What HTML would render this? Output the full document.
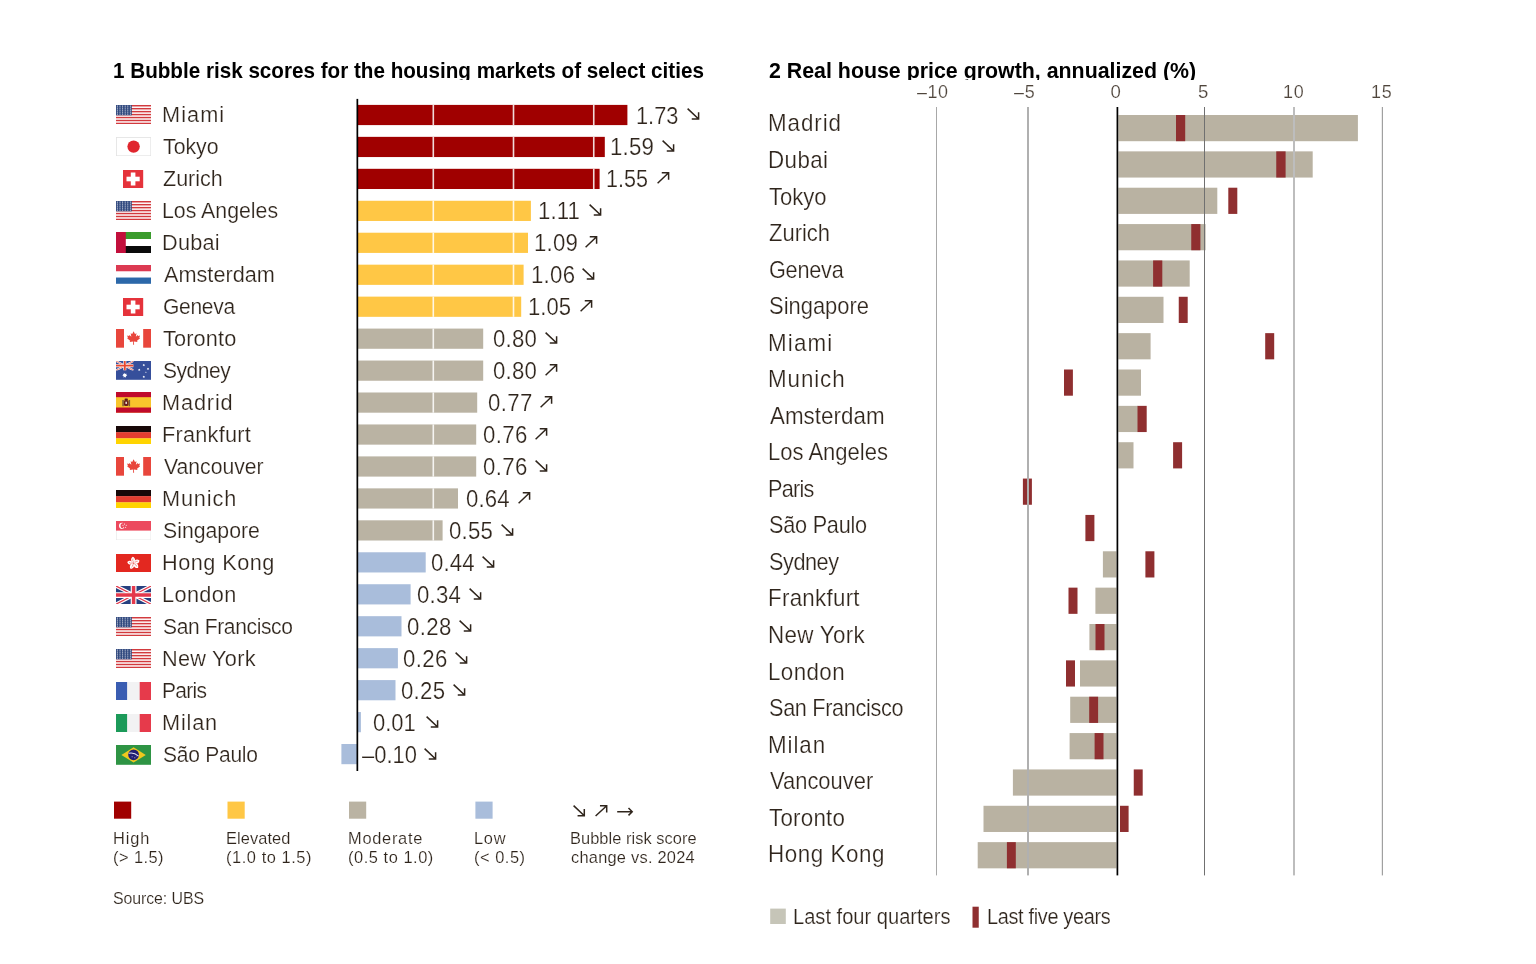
<!DOCTYPE html>
<html lang="en"><head><meta charset="utf-8"><title>Bubble risk scores and real house price growth</title>
<style>
html,body{margin:0;padding:0;background:#fff}
body{width:1536px;height:964px;position:relative;overflow:hidden;font-family:"Liberation Sans", sans-serif;font-weight:400}
.t{position:absolute;white-space:nowrap;transform-origin:0 0;display:block;-webkit-text-stroke:0 #fff}
.b{-webkit-text-stroke:0}
.r{position:absolute}
.a{position:absolute;overflow:visible}
svg.a{overflow:hidden}
.clip{position:absolute;overflow:hidden}
.chart,.row,.legend{position:static}
</style></head><body>
<div class="clip" style="left:100px;top:40px;width:1300px;height:40.2px">
<span class="t b" style="left:13.31px;top:20.35px;font-size:21.2px;line-height:21.2px;transform:scaleX(0.9744);color:#000;font-weight:700;">1 Bubble risk scores for the housing markets of select cities</span>
<span class="t b" style="left:668.65px;top:20.25px;font-size:21.2px;line-height:21.2px;transform:scaleX(1.0079);color:#000;font-weight:700;">2 Real house price growth, annualized (%)</span>
</div>
<div class="chart" id="chart1">
<div class="row">
<svg class="a" style="left:115.85px;top:105.10px" width="35.2" height="19.2" viewBox="0 0 35.2 19.2"><rect width="35.2" height="19.2" fill="#fff"/><rect y="0.000" width="35.2" height="1.477" fill="#d23a3e"/><rect y="2.954" width="35.2" height="1.477" fill="#d23a3e"/><rect y="5.908" width="35.2" height="1.477" fill="#d23a3e"/><rect y="8.862" width="35.2" height="1.477" fill="#d23a3e"/><rect y="11.815" width="35.2" height="1.477" fill="#d23a3e"/><rect y="14.769" width="35.2" height="1.477" fill="#d23a3e"/><rect y="17.723" width="35.2" height="1.477" fill="#d23a3e"/><rect width="15.8" height="10.338" fill="#31497f"/><circle cx="1.40" cy="1.10" r="0.6" fill="#fff" fill-opacity=".85"/><circle cx="4.00" cy="1.10" r="0.6" fill="#fff" fill-opacity=".85"/><circle cx="6.60" cy="1.10" r="0.6" fill="#fff" fill-opacity=".85"/><circle cx="9.20" cy="1.10" r="0.6" fill="#fff" fill-opacity=".85"/><circle cx="11.80" cy="1.10" r="0.6" fill="#fff" fill-opacity=".85"/><circle cx="14.40" cy="1.10" r="0.6" fill="#fff" fill-opacity=".85"/><circle cx="1.40" cy="3.10" r="0.6" fill="#fff" fill-opacity=".85"/><circle cx="4.00" cy="3.10" r="0.6" fill="#fff" fill-opacity=".85"/><circle cx="6.60" cy="3.10" r="0.6" fill="#fff" fill-opacity=".85"/><circle cx="9.20" cy="3.10" r="0.6" fill="#fff" fill-opacity=".85"/><circle cx="11.80" cy="3.10" r="0.6" fill="#fff" fill-opacity=".85"/><circle cx="14.40" cy="3.10" r="0.6" fill="#fff" fill-opacity=".85"/><circle cx="1.40" cy="5.10" r="0.6" fill="#fff" fill-opacity=".85"/><circle cx="4.00" cy="5.10" r="0.6" fill="#fff" fill-opacity=".85"/><circle cx="6.60" cy="5.10" r="0.6" fill="#fff" fill-opacity=".85"/><circle cx="9.20" cy="5.10" r="0.6" fill="#fff" fill-opacity=".85"/><circle cx="11.80" cy="5.10" r="0.6" fill="#fff" fill-opacity=".85"/><circle cx="14.40" cy="5.10" r="0.6" fill="#fff" fill-opacity=".85"/><circle cx="1.40" cy="7.10" r="0.6" fill="#fff" fill-opacity=".85"/><circle cx="4.00" cy="7.10" r="0.6" fill="#fff" fill-opacity=".85"/><circle cx="6.60" cy="7.10" r="0.6" fill="#fff" fill-opacity=".85"/><circle cx="9.20" cy="7.10" r="0.6" fill="#fff" fill-opacity=".85"/><circle cx="11.80" cy="7.10" r="0.6" fill="#fff" fill-opacity=".85"/><circle cx="14.40" cy="7.10" r="0.6" fill="#fff" fill-opacity=".85"/><circle cx="1.40" cy="9.10" r="0.6" fill="#fff" fill-opacity=".85"/><circle cx="4.00" cy="9.10" r="0.6" fill="#fff" fill-opacity=".85"/><circle cx="6.60" cy="9.10" r="0.6" fill="#fff" fill-opacity=".85"/><circle cx="9.20" cy="9.10" r="0.6" fill="#fff" fill-opacity=".85"/><circle cx="11.80" cy="9.10" r="0.6" fill="#fff" fill-opacity=".85"/><circle cx="14.40" cy="9.10" r="0.6" fill="#fff" fill-opacity=".85"/></svg>
<span class="t" style="left:161.91px;top:103.75px;font-size:22.5px;line-height:22.5px;transform:scaleX(0.9650);color:#2f251c;letter-spacing:1.098px;-webkit-text-stroke-width:0.225px;">Miami</span>
<span class="t" style="left:635.87px;top:104.53px;font-size:23.0px;line-height:23.0px;transform:scaleX(0.9469);color:#2f251c;-webkit-text-stroke-width:0.230px;">1.73</span>
<svg class="a" style="left:685.40px;top:106.45px" width="16.40" height="15.80"><path d="M2.6,2.6 L13.599999999999977,13.00000000000001 M6.75599999999997,13.00000000000001 H13.599999999999977 V6.156000000000004" fill="none" stroke="#2f251c" stroke-width="1.5" stroke-linecap="butt" stroke-linejoin="miter"/></svg>
</div>
<div class="row">
<svg class="a" style="left:115.85px;top:137.11px" width="35.2" height="19.2" viewBox="0 0 35.2 19.2"><rect x=".4" y=".4" width="34.400000000000006" height="18.4" fill="#fff" stroke="#e2e2e2" stroke-width=".8"/><circle cx="17.6" cy="9.6" r="6.2" fill="#e0262e"/></svg>
<span class="t" style="left:163.22px;top:135.75px;font-size:22.5px;line-height:22.5px;transform:scaleX(0.9456);color:#2f251c;-webkit-text-stroke-width:0.225px;">Tokyo</span>
<span class="t" style="left:610.04px;top:136.49px;font-size:23.0px;line-height:23.0px;transform:scaleX(0.9650);color:#2f251c;letter-spacing:0.240px;-webkit-text-stroke-width:0.230px;">1.59</span>
<svg class="a" style="left:660.20px;top:138.45px" width="16.40" height="15.80"><path d="M2.6,2.6 L13.599999999999977,13.00000000000001 M6.75599999999997,13.00000000000001 H13.599999999999977 V6.156000000000004" fill="none" stroke="#2f251c" stroke-width="1.5" stroke-linecap="butt" stroke-linejoin="miter"/></svg>
</div>
<div class="row">
<svg class="a" style="left:123.35px;top:169.72px" width="20.2" height="18" viewBox="0 0 20.2 18"><rect width="20.2" height="18" fill="#e5333b"/><rect x="3.5" y="6.7" width="13.2" height="4.6" fill="#fff"/><rect x="7.8" y="2.5" width="4.6" height="13" fill="#fff"/></svg>
<span class="t" style="left:163.00px;top:167.74px;font-size:22.5px;line-height:22.5px;transform:scaleX(0.9560);color:#2f251c;-webkit-text-stroke-width:0.225px;">Zurich</span>
<span class="t" style="left:605.69px;top:168.44px;font-size:23.0px;line-height:23.0px;transform:scaleX(0.9361);color:#2f251c;-webkit-text-stroke-width:0.230px;">1.55</span>
<svg class="a" style="left:654.80px;top:170.45px" width="16.40" height="15.80"><path d="M2.6,13.200000000000012 L13.599999999999977,2.8 M6.75599999999997,2.8 H13.599999999999977 V9.644000000000005" fill="none" stroke="#2f251c" stroke-width="1.5" stroke-linecap="butt" stroke-linejoin="miter"/></svg>
</div>
<div class="row">
<svg class="a" style="left:115.85px;top:201.13px" width="35.2" height="19.2" viewBox="0 0 35.2 19.2"><rect width="35.2" height="19.2" fill="#fff"/><rect y="0.000" width="35.2" height="1.477" fill="#d23a3e"/><rect y="2.954" width="35.2" height="1.477" fill="#d23a3e"/><rect y="5.908" width="35.2" height="1.477" fill="#d23a3e"/><rect y="8.862" width="35.2" height="1.477" fill="#d23a3e"/><rect y="11.815" width="35.2" height="1.477" fill="#d23a3e"/><rect y="14.769" width="35.2" height="1.477" fill="#d23a3e"/><rect y="17.723" width="35.2" height="1.477" fill="#d23a3e"/><rect width="15.8" height="10.338" fill="#31497f"/><circle cx="1.40" cy="1.10" r="0.6" fill="#fff" fill-opacity=".85"/><circle cx="4.00" cy="1.10" r="0.6" fill="#fff" fill-opacity=".85"/><circle cx="6.60" cy="1.10" r="0.6" fill="#fff" fill-opacity=".85"/><circle cx="9.20" cy="1.10" r="0.6" fill="#fff" fill-opacity=".85"/><circle cx="11.80" cy="1.10" r="0.6" fill="#fff" fill-opacity=".85"/><circle cx="14.40" cy="1.10" r="0.6" fill="#fff" fill-opacity=".85"/><circle cx="1.40" cy="3.10" r="0.6" fill="#fff" fill-opacity=".85"/><circle cx="4.00" cy="3.10" r="0.6" fill="#fff" fill-opacity=".85"/><circle cx="6.60" cy="3.10" r="0.6" fill="#fff" fill-opacity=".85"/><circle cx="9.20" cy="3.10" r="0.6" fill="#fff" fill-opacity=".85"/><circle cx="11.80" cy="3.10" r="0.6" fill="#fff" fill-opacity=".85"/><circle cx="14.40" cy="3.10" r="0.6" fill="#fff" fill-opacity=".85"/><circle cx="1.40" cy="5.10" r="0.6" fill="#fff" fill-opacity=".85"/><circle cx="4.00" cy="5.10" r="0.6" fill="#fff" fill-opacity=".85"/><circle cx="6.60" cy="5.10" r="0.6" fill="#fff" fill-opacity=".85"/><circle cx="9.20" cy="5.10" r="0.6" fill="#fff" fill-opacity=".85"/><circle cx="11.80" cy="5.10" r="0.6" fill="#fff" fill-opacity=".85"/><circle cx="14.40" cy="5.10" r="0.6" fill="#fff" fill-opacity=".85"/><circle cx="1.40" cy="7.10" r="0.6" fill="#fff" fill-opacity=".85"/><circle cx="4.00" cy="7.10" r="0.6" fill="#fff" fill-opacity=".85"/><circle cx="6.60" cy="7.10" r="0.6" fill="#fff" fill-opacity=".85"/><circle cx="9.20" cy="7.10" r="0.6" fill="#fff" fill-opacity=".85"/><circle cx="11.80" cy="7.10" r="0.6" fill="#fff" fill-opacity=".85"/><circle cx="14.40" cy="7.10" r="0.6" fill="#fff" fill-opacity=".85"/><circle cx="1.40" cy="9.10" r="0.6" fill="#fff" fill-opacity=".85"/><circle cx="4.00" cy="9.10" r="0.6" fill="#fff" fill-opacity=".85"/><circle cx="6.60" cy="9.10" r="0.6" fill="#fff" fill-opacity=".85"/><circle cx="9.20" cy="9.10" r="0.6" fill="#fff" fill-opacity=".85"/><circle cx="11.80" cy="9.10" r="0.6" fill="#fff" fill-opacity=".85"/><circle cx="14.40" cy="9.10" r="0.6" fill="#fff" fill-opacity=".85"/></svg>
<span class="t" style="left:161.94px;top:199.74px;font-size:22.5px;line-height:22.5px;transform:scaleX(0.9468);color:#2f251c;-webkit-text-stroke-width:0.225px;">Los Angeles</span>
<span class="t" style="left:537.54px;top:200.40px;font-size:23.0px;line-height:23.0px;transform:scaleX(0.9650);color:#2f251c;letter-spacing:0.109px;-webkit-text-stroke-width:0.230px;">1.11</span>
<svg class="a" style="left:586.70px;top:202.45px" width="16.40" height="15.80"><path d="M2.6,2.6 L13.599999999999977,13.00000000000001 M6.75599999999997,13.00000000000001 H13.599999999999977 V6.156000000000004" fill="none" stroke="#2f251c" stroke-width="1.5" stroke-linecap="butt" stroke-linejoin="miter"/></svg>
</div>
<div class="row">
<svg class="a" style="left:115.85px;top:232.24px" width="35.2" height="21" viewBox="0 0 35.2 21"><rect width="35.2" height="21" fill="#fff"/><rect width="35.2" height="7.0" fill="#3a9b2c"/><rect y="14.0" width="35.2" height="7.0" fill="#0a0a0a"/><rect width="9.8" height="21" fill="#c20f3c"/></svg>
<span class="t" style="left:161.91px;top:231.73px;font-size:22.5px;line-height:22.5px;transform:scaleX(0.9650);color:#2f251c;letter-spacing:0.242px;-webkit-text-stroke-width:0.225px;">Dubai</span>
<span class="t" style="left:533.64px;top:232.35px;font-size:23.0px;line-height:23.0px;transform:scaleX(0.9650);color:#2f251c;letter-spacing:0.240px;-webkit-text-stroke-width:0.230px;">1.09</span>
<svg class="a" style="left:583.30px;top:234.45px" width="16.40" height="15.80"><path d="M2.6,13.200000000000012 L13.599999999999977,2.8 M6.75599999999997,2.8 H13.599999999999977 V9.644000000000005" fill="none" stroke="#2f251c" stroke-width="1.5" stroke-linecap="butt" stroke-linejoin="miter"/></svg>
</div>
<div class="row">
<svg class="a" style="left:115.85px;top:265.35px" width="35.2" height="18.8" viewBox="0 0 35.2 18.8"><rect width="35.2" height="18.8" fill="#fff"/><rect width="35.2" height="6.266666666666667" fill="#dc3a52"/><rect y="12.533333333333333" width="35.2" height="6.266666666666667" fill="#2c68a9"/></svg>
<span class="t" style="left:163.65px;top:263.73px;font-size:22.5px;line-height:22.5px;transform:scaleX(0.9638);color:#2f251c;-webkit-text-stroke-width:0.225px;">Amsterdam</span>
<span class="t" style="left:530.54px;top:264.31px;font-size:23.0px;line-height:23.0px;transform:scaleX(0.9650);color:#2f251c;letter-spacing:0.290px;-webkit-text-stroke-width:0.230px;">1.06</span>
<svg class="a" style="left:580.20px;top:266.45px" width="16.40" height="15.80"><path d="M2.6,2.6 L13.599999999999977,12.999999999999954 M6.756000000000004,12.999999999999954 H13.599999999999977 V6.155999999999981" fill="none" stroke="#2f251c" stroke-width="1.5" stroke-linecap="butt" stroke-linejoin="miter"/></svg>
</div>
<div class="row">
<svg class="a" style="left:123.35px;top:297.76px" width="20.2" height="18" viewBox="0 0 20.2 18"><rect width="20.2" height="18" fill="#e5333b"/><rect x="3.5" y="6.7" width="13.2" height="4.6" fill="#fff"/><rect x="7.8" y="2.5" width="4.6" height="13" fill="#fff"/></svg>
<span class="t" style="left:162.65px;top:295.72px;font-size:22.5px;line-height:22.5px;transform:scaleX(0.9350);color:#2f251c;letter-spacing:-0.339px;-webkit-text-stroke-width:0.225px;">Geneva</span>
<span class="t" style="left:528.44px;top:296.26px;font-size:23.0px;line-height:23.0px;transform:scaleX(0.9598);color:#2f251c;-webkit-text-stroke-width:0.230px;">1.05</span>
<svg class="a" style="left:578.10px;top:298.45px" width="16.40" height="15.80"><path d="M2.6,13.199999999999955 L13.599999999999977,2.8 M6.756000000000004,2.8 H13.599999999999977 V9.643999999999973" fill="none" stroke="#2f251c" stroke-width="1.5" stroke-linecap="butt" stroke-linejoin="miter"/></svg>
</div>
<div class="row">
<svg class="a" style="left:115.85px;top:329.42px" width="35.2" height="18.7" viewBox="0 0 35.2 18.7"><rect width="35.2" height="18.7" fill="#fff"/><rect width="8" height="18.7" fill="#e8463c"/><rect x="27.200000000000003" width="8" height="18.7" fill="#e8463c"/><path transform="translate(17.6,9.049999999999999) scale(1.08)" d="M0,-6.2 L1.3,-3.8 L2.7,-4.5 L2.1,-1.2 L3.8,-2.9 L4.2,-1.9 L6,-2.3 L5.3,-0.3 L6,0.2 L3.2,2.5 L3.6,3.6 L0.35,3.2 L0.45,6.2 L-0.45,6.2 L-0.35,3.2 L-3.6,3.6 L-3.2,2.5 L-6,0.2 L-5.3,-0.3 L-6,-2.3 L-4.2,-1.9 L-3.8,-2.9 L-2.1,-1.2 L-2.7,-4.5 L-1.3,-3.8 Z" fill="#e8463c"/></svg>
<span class="t" style="left:163.21px;top:327.72px;font-size:22.5px;line-height:22.5px;transform:scaleX(0.9650);color:#2f251c;letter-spacing:0.146px;-webkit-text-stroke-width:0.225px;">Toronto</span>
<span class="t" style="left:492.71px;top:328.22px;font-size:23.0px;line-height:23.0px;transform:scaleX(0.9650);color:#2f251c;letter-spacing:0.259px;-webkit-text-stroke-width:0.230px;">0.80</span>
<svg class="a" style="left:542.80px;top:330.45px" width="16.40" height="15.80"><path d="M2.6,2.6 L13.599999999999977,12.999999999999954 M6.756000000000004,12.999999999999954 H13.599999999999977 V6.155999999999981" fill="none" stroke="#2f251c" stroke-width="1.5" stroke-linecap="butt" stroke-linejoin="miter"/></svg>
</div>
<div class="row">
<svg class="a" style="left:115.85px;top:361.38px" width="35.2" height="18.8" viewBox="0 0 35.2 18.8"><rect width="35.2" height="18.8" fill="#364f9b"/><svg width="17.6" height="9.4"><rect width="17.6" height="9.4" fill="#364f9b"/><path d="M0,0 L17.6,9.4 M17.6,0 L0,9.4" stroke="#fff" stroke-width="1.88"/><path d="M0,0 L17.6,9.4 M17.6,0 L0,9.4" stroke="#e8472f" stroke-width="0.66"/><path d="M8.8,0 V9.4 M0,4.7 H17.6" stroke="#fff" stroke-width="3.01"/><path d="M8.8,0 V9.4 M0,4.7 H17.6" stroke="#e8472f" stroke-width="1.79"/></svg><polygon points="8.80,11.69 9.41,13.03 10.83,12.67 10.16,13.98 11.33,14.87 9.89,15.16 9.93,16.63 8.80,15.69 7.67,16.63 7.71,15.16 6.27,14.87 7.44,13.98 6.77,12.67 8.19,13.03" fill="#fff"/><polygon points="27.81,2.84 28.09,3.55 28.82,3.33 28.44,3.99 29.08,4.43 28.32,4.54 28.37,5.31 27.81,4.79 27.24,5.31 27.30,4.54 26.54,4.43 27.17,3.99 26.79,3.33 27.53,3.55" fill="#fff"/><polygon points="27.81,14.49 28.09,15.21 28.82,14.98 28.44,15.65 29.08,16.08 28.32,16.20 28.37,16.96 27.81,16.44 27.24,16.96 27.30,16.20 26.54,16.08 27.17,15.65 26.79,14.98 27.53,15.21" fill="#fff"/><polygon points="23.23,7.54 23.51,8.25 24.25,8.03 23.87,8.69 24.50,9.13 23.74,9.24 23.80,10.01 23.23,9.49 22.67,10.01 22.72,9.24 21.96,9.13 22.60,8.69 22.22,8.03 22.95,8.25" fill="#fff"/><polygon points="32.03,6.60 32.31,7.31 33.05,7.09 32.67,7.75 33.30,8.19 32.54,8.30 32.60,9.07 32.03,8.55 31.47,9.07 31.52,8.30 30.76,8.19 31.40,7.75 31.02,7.09 31.75,7.31" fill="#fff"/><polygon points="29.92,10.48 30.09,10.92 30.55,10.78 30.31,11.19 30.70,11.46 30.23,11.53 30.27,12.00 29.92,11.68 29.57,12.00 29.61,11.53 29.14,11.46 29.53,11.19 29.29,10.78 29.75,10.92" fill="#fff"/></svg>
<span class="t" style="left:162.75px;top:359.71px;font-size:22.5px;line-height:22.5px;transform:scaleX(0.9350);color:#2f251c;letter-spacing:-0.526px;-webkit-text-stroke-width:0.225px;">Sydney</span>
<span class="t" style="left:492.71px;top:360.17px;font-size:23.0px;line-height:23.0px;transform:scaleX(0.9650);color:#2f251c;letter-spacing:0.259px;-webkit-text-stroke-width:0.230px;">0.80</span>
<svg class="a" style="left:542.80px;top:362.45px" width="16.40" height="15.80"><path d="M2.6,13.199999999999955 L13.599999999999977,2.8 M6.756000000000004,2.8 H13.599999999999977 V9.643999999999973" fill="none" stroke="#2f251c" stroke-width="1.5" stroke-linecap="butt" stroke-linejoin="miter"/></svg>
</div>
<div class="row">
<svg class="a" style="left:115.85px;top:392.44px" width="35.2" height="20.7" viewBox="0 0 35.2 20.7"><rect width="35.2" height="20.7" fill="#f8c52c"/><rect width="35.2" height="5.175" fill="#c00a2c"/><rect y="15.524999999999999" width="35.2" height="5.175" fill="#c00a2c"/><rect x="6.3" y="7.949999999999999" width="1.5" height="6.3" fill="#7a5a3a"/><rect x="12.6" y="7.949999999999999" width="1.5" height="6.3" fill="#7a5a3a"/><rect x="7.9" y="8.05" width="4.6" height="6.0" rx="1.6" fill="#6b1f1c"/><rect x="9.4" y="9.75" width="1.6" height="2.2" fill="#e9dcd0"/><rect x="8.6" y="6.449999999999999" width="3.2" height="1.9" rx=".6" fill="#5a1a14"/></svg>
<span class="t" style="left:161.91px;top:391.71px;font-size:22.5px;line-height:22.5px;transform:scaleX(0.9650);color:#2f251c;letter-spacing:0.895px;-webkit-text-stroke-width:0.225px;">Madrid</span>
<span class="t" style="left:488.11px;top:392.13px;font-size:23.0px;line-height:23.0px;transform:scaleX(0.9650);color:#2f251c;letter-spacing:0.424px;-webkit-text-stroke-width:0.230px;">0.77</span>
<svg class="a" style="left:538.20px;top:394.45px" width="16.40" height="15.80"><path d="M2.6,13.199999999999955 L13.599999999999977,2.8 M6.756000000000004,2.8 H13.599999999999977 V9.643999999999973" fill="none" stroke="#2f251c" stroke-width="1.5" stroke-linecap="butt" stroke-linejoin="miter"/></svg>
</div>
<div class="row">
<svg class="a" style="left:115.85px;top:425.55px" width="35.2" height="18.5" viewBox="0 0 35.2 18.5"><rect width="35.2" height="6.366666666666667" fill="#170808"/><rect y="6.166666666666667" width="35.2" height="6.366666666666667" fill="#e33d30"/><rect y="12.333333333333334" width="35.2" height="6.166666666666667" fill="#ffd400"/></svg>
<span class="t" style="left:161.91px;top:423.70px;font-size:22.5px;line-height:22.5px;transform:scaleX(0.9650);color:#2f251c;letter-spacing:0.234px;-webkit-text-stroke-width:0.225px;">Frankfurt</span>
<span class="t" style="left:482.86px;top:424.08px;font-size:23.0px;line-height:23.0px;transform:scaleX(0.9650);color:#2f251c;letter-spacing:0.384px;-webkit-text-stroke-width:0.230px;">0.76</span>
<svg class="a" style="left:533.00px;top:426.45px" width="16.40" height="15.80"><path d="M2.6,13.199999999999955 L13.599999999999977,2.8 M6.756000000000004,2.8 H13.599999999999977 V9.643999999999973" fill="none" stroke="#2f251c" stroke-width="1.5" stroke-linecap="butt" stroke-linejoin="miter"/></svg>
</div>
<div class="row">
<svg class="a" style="left:115.85px;top:457.46px" width="35.2" height="18.7" viewBox="0 0 35.2 18.7"><rect width="35.2" height="18.7" fill="#fff"/><rect width="8" height="18.7" fill="#e8463c"/><rect x="27.200000000000003" width="8" height="18.7" fill="#e8463c"/><path transform="translate(17.6,9.049999999999999) scale(1.08)" d="M0,-6.2 L1.3,-3.8 L2.7,-4.5 L2.1,-1.2 L3.8,-2.9 L4.2,-1.9 L6,-2.3 L5.3,-0.3 L6,0.2 L3.2,2.5 L3.6,3.6 L0.35,3.2 L0.45,6.2 L-0.45,6.2 L-0.35,3.2 L-3.6,3.6 L-3.2,2.5 L-6,0.2 L-5.3,-0.3 L-6,-2.3 L-4.2,-1.9 L-3.8,-2.9 L-2.1,-1.2 L-2.7,-4.5 L-1.3,-3.8 Z" fill="#e8463c"/></svg>
<span class="t" style="left:163.59px;top:455.70px;font-size:22.5px;line-height:22.5px;transform:scaleX(0.9411);color:#2f251c;-webkit-text-stroke-width:0.225px;">Vancouver</span>
<span class="t" style="left:482.86px;top:456.04px;font-size:23.0px;line-height:23.0px;transform:scaleX(0.9650);color:#2f251c;letter-spacing:0.384px;-webkit-text-stroke-width:0.230px;">0.76</span>
<svg class="a" style="left:533.00px;top:458.45px" width="16.40" height="15.80"><path d="M2.6,2.6 L13.599999999999977,12.999999999999954 M6.756000000000004,12.999999999999954 H13.599999999999977 V6.155999999999981" fill="none" stroke="#2f251c" stroke-width="1.5" stroke-linecap="butt" stroke-linejoin="miter"/></svg>
</div>
<div class="row">
<svg class="a" style="left:115.85px;top:489.57px" width="35.2" height="18.5" viewBox="0 0 35.2 18.5"><rect width="35.2" height="6.366666666666667" fill="#170808"/><rect y="6.166666666666667" width="35.2" height="6.366666666666667" fill="#e33d30"/><rect y="12.333333333333334" width="35.2" height="6.166666666666667" fill="#ffd400"/></svg>
<span class="t" style="left:161.91px;top:487.69px;font-size:22.5px;line-height:22.5px;transform:scaleX(0.9650);color:#2f251c;letter-spacing:0.887px;-webkit-text-stroke-width:0.225px;">Munich</span>
<span class="t" style="left:465.91px;top:487.99px;font-size:23.0px;line-height:23.0px;transform:scaleX(0.9650);color:#2f251c;letter-spacing:0.096px;-webkit-text-stroke-width:0.230px;">0.64</span>
<svg class="a" style="left:516.00px;top:490.45px" width="16.40" height="15.80"><path d="M2.6,13.199999999999955 L13.599999999999977,2.8 M6.756000000000004,2.8 H13.599999999999977 V9.643999999999973" fill="none" stroke="#2f251c" stroke-width="1.5" stroke-linecap="butt" stroke-linejoin="miter"/></svg>
</div>
<div class="row">
<svg class="a" style="left:115.85px;top:521.23px" width="35.2" height="19.2" viewBox="0 0 35.2 19.2"><rect x=".3" y=".3" width="34.6" height="18.599999999999998" fill="#fff" stroke="#e4e4e4" stroke-width=".6"/><rect width="35.2" height="9.6" fill="#ec4a5e"/><circle cx="6.1" cy="4.8" r="3.1" fill="#fff"/><circle cx="7.3" cy="4.8" r="2.8" fill="#ec4a5e"/><circle cx="8.60" cy="3.10" r=".55" fill="#fff"/><circle cx="10.22" cy="4.27" r=".55" fill="#fff"/><circle cx="9.60" cy="6.18" r=".55" fill="#fff"/><circle cx="7.60" cy="6.18" r=".55" fill="#fff"/><circle cx="6.98" cy="4.27" r=".55" fill="#fff"/></svg>
<span class="t" style="left:162.74px;top:519.69px;font-size:22.5px;line-height:22.5px;transform:scaleX(0.9446);color:#2f251c;-webkit-text-stroke-width:0.225px;">Singapore</span>
<span class="t" style="left:449.31px;top:519.95px;font-size:23.0px;line-height:23.0px;transform:scaleX(0.9650);color:#2f251c;letter-spacing:0.244px;-webkit-text-stroke-width:0.230px;">0.55</span>
<svg class="a" style="left:499.20px;top:522.45px" width="16.40" height="15.80"><path d="M2.6,2.6 L13.600000000000033,12.999999999999954 M6.756000000000061,12.999999999999954 H13.600000000000033 V6.155999999999981" fill="none" stroke="#2f251c" stroke-width="1.5" stroke-linecap="butt" stroke-linejoin="miter"/></svg>
</div>
<div class="row">
<svg class="a" style="left:115.85px;top:553.64px" width="35.2" height="18.4" viewBox="0 0 35.2 18.4"><rect width="35.2" height="18.4" fill="#e32820"/><path transform="translate(17.6,9.2) rotate(0)" d="M0,-0.4 C-2.9,-1.4 -3.4,-4.6 -0.8,-6.4 C1.9,-5.3 2.2,-2.2 0,-0.4 Z" fill="#fff"/><path transform="translate(17.6,9.2) rotate(0)" d="M-0.2,-1.2 Q-1.4,-3 -0.6,-4.6" stroke="#e32820" stroke-width=".45" fill="none"/><path transform="translate(17.6,9.2) rotate(72)" d="M0,-0.4 C-2.9,-1.4 -3.4,-4.6 -0.8,-6.4 C1.9,-5.3 2.2,-2.2 0,-0.4 Z" fill="#fff"/><path transform="translate(17.6,9.2) rotate(72)" d="M-0.2,-1.2 Q-1.4,-3 -0.6,-4.6" stroke="#e32820" stroke-width=".45" fill="none"/><path transform="translate(17.6,9.2) rotate(144)" d="M0,-0.4 C-2.9,-1.4 -3.4,-4.6 -0.8,-6.4 C1.9,-5.3 2.2,-2.2 0,-0.4 Z" fill="#fff"/><path transform="translate(17.6,9.2) rotate(144)" d="M-0.2,-1.2 Q-1.4,-3 -0.6,-4.6" stroke="#e32820" stroke-width=".45" fill="none"/><path transform="translate(17.6,9.2) rotate(216)" d="M0,-0.4 C-2.9,-1.4 -3.4,-4.6 -0.8,-6.4 C1.9,-5.3 2.2,-2.2 0,-0.4 Z" fill="#fff"/><path transform="translate(17.6,9.2) rotate(216)" d="M-0.2,-1.2 Q-1.4,-3 -0.6,-4.6" stroke="#e32820" stroke-width=".45" fill="none"/><path transform="translate(17.6,9.2) rotate(288)" d="M0,-0.4 C-2.9,-1.4 -3.4,-4.6 -0.8,-6.4 C1.9,-5.3 2.2,-2.2 0,-0.4 Z" fill="#fff"/><path transform="translate(17.6,9.2) rotate(288)" d="M-0.2,-1.2 Q-1.4,-3 -0.6,-4.6" stroke="#e32820" stroke-width=".45" fill="none"/></svg>
<span class="t" style="left:161.91px;top:551.68px;font-size:22.5px;line-height:22.5px;transform:scaleX(0.9650);color:#2f251c;letter-spacing:0.470px;-webkit-text-stroke-width:0.225px;">Hong Kong</span>
<span class="t" style="left:430.61px;top:551.90px;font-size:23.0px;line-height:23.0px;transform:scaleX(0.9650);color:#2f251c;letter-spacing:0.148px;-webkit-text-stroke-width:0.230px;">0.44</span>
<svg class="a" style="left:480.40px;top:554.45px" width="16.40" height="15.80"><path d="M2.6,2.6 L13.599999999999977,12.999999999999954 M6.756000000000004,12.999999999999954 H13.599999999999977 V6.155999999999981" fill="none" stroke="#2f251c" stroke-width="1.5" stroke-linecap="butt" stroke-linejoin="miter"/></svg>
</div>
<div class="row">
<svg class="a" style="left:115.85px;top:585.75px" width="35.2" height="18.2" viewBox="0 0 35.2 18.2"><rect width="35.2" height="18.2" fill="#27407f"/><path d="M0,0 L35.2,18.2 M35.2,0 L0,18.2" stroke="#fff" stroke-width="3.64"/><path d="M0,0 L35.2,18.2 M35.2,0 L0,18.2" stroke="#e4384b" stroke-width="1.27"/><path d="M17.6,0 V18.2 M0,9.1 H35.2" stroke="#fff" stroke-width="5.82"/><path d="M17.6,0 V18.2 M0,9.1 H35.2" stroke="#e4384b" stroke-width="3.46"/></svg>
<span class="t" style="left:161.91px;top:583.68px;font-size:22.5px;line-height:22.5px;transform:scaleX(0.9650);color:#2f251c;letter-spacing:0.381px;-webkit-text-stroke-width:0.225px;">London</span>
<span class="t" style="left:417.31px;top:583.86px;font-size:23.0px;line-height:23.0px;transform:scaleX(0.9650);color:#2f251c;letter-spacing:0.252px;-webkit-text-stroke-width:0.230px;">0.34</span>
<svg class="a" style="left:467.20px;top:586.45px" width="16.40" height="15.80"><path d="M2.6,2.6 L13.599999999999977,12.999999999999954 M6.756000000000004,12.999999999999954 H13.599999999999977 V6.155999999999981" fill="none" stroke="#2f251c" stroke-width="1.5" stroke-linecap="butt" stroke-linejoin="miter"/></svg>
</div>
<div class="row">
<svg class="a" style="left:115.85px;top:617.26px" width="35.2" height="19.2" viewBox="0 0 35.2 19.2"><rect width="35.2" height="19.2" fill="#fff"/><rect y="0.000" width="35.2" height="1.477" fill="#d23a3e"/><rect y="2.954" width="35.2" height="1.477" fill="#d23a3e"/><rect y="5.908" width="35.2" height="1.477" fill="#d23a3e"/><rect y="8.862" width="35.2" height="1.477" fill="#d23a3e"/><rect y="11.815" width="35.2" height="1.477" fill="#d23a3e"/><rect y="14.769" width="35.2" height="1.477" fill="#d23a3e"/><rect y="17.723" width="35.2" height="1.477" fill="#d23a3e"/><rect width="15.8" height="10.338" fill="#31497f"/><circle cx="1.40" cy="1.10" r="0.6" fill="#fff" fill-opacity=".85"/><circle cx="4.00" cy="1.10" r="0.6" fill="#fff" fill-opacity=".85"/><circle cx="6.60" cy="1.10" r="0.6" fill="#fff" fill-opacity=".85"/><circle cx="9.20" cy="1.10" r="0.6" fill="#fff" fill-opacity=".85"/><circle cx="11.80" cy="1.10" r="0.6" fill="#fff" fill-opacity=".85"/><circle cx="14.40" cy="1.10" r="0.6" fill="#fff" fill-opacity=".85"/><circle cx="1.40" cy="3.10" r="0.6" fill="#fff" fill-opacity=".85"/><circle cx="4.00" cy="3.10" r="0.6" fill="#fff" fill-opacity=".85"/><circle cx="6.60" cy="3.10" r="0.6" fill="#fff" fill-opacity=".85"/><circle cx="9.20" cy="3.10" r="0.6" fill="#fff" fill-opacity=".85"/><circle cx="11.80" cy="3.10" r="0.6" fill="#fff" fill-opacity=".85"/><circle cx="14.40" cy="3.10" r="0.6" fill="#fff" fill-opacity=".85"/><circle cx="1.40" cy="5.10" r="0.6" fill="#fff" fill-opacity=".85"/><circle cx="4.00" cy="5.10" r="0.6" fill="#fff" fill-opacity=".85"/><circle cx="6.60" cy="5.10" r="0.6" fill="#fff" fill-opacity=".85"/><circle cx="9.20" cy="5.10" r="0.6" fill="#fff" fill-opacity=".85"/><circle cx="11.80" cy="5.10" r="0.6" fill="#fff" fill-opacity=".85"/><circle cx="14.40" cy="5.10" r="0.6" fill="#fff" fill-opacity=".85"/><circle cx="1.40" cy="7.10" r="0.6" fill="#fff" fill-opacity=".85"/><circle cx="4.00" cy="7.10" r="0.6" fill="#fff" fill-opacity=".85"/><circle cx="6.60" cy="7.10" r="0.6" fill="#fff" fill-opacity=".85"/><circle cx="9.20" cy="7.10" r="0.6" fill="#fff" fill-opacity=".85"/><circle cx="11.80" cy="7.10" r="0.6" fill="#fff" fill-opacity=".85"/><circle cx="14.40" cy="7.10" r="0.6" fill="#fff" fill-opacity=".85"/><circle cx="1.40" cy="9.10" r="0.6" fill="#fff" fill-opacity=".85"/><circle cx="4.00" cy="9.10" r="0.6" fill="#fff" fill-opacity=".85"/><circle cx="6.60" cy="9.10" r="0.6" fill="#fff" fill-opacity=".85"/><circle cx="9.20" cy="9.10" r="0.6" fill="#fff" fill-opacity=".85"/><circle cx="11.80" cy="9.10" r="0.6" fill="#fff" fill-opacity=".85"/><circle cx="14.40" cy="9.10" r="0.6" fill="#fff" fill-opacity=".85"/></svg>
<span class="t" style="left:162.75px;top:615.67px;font-size:22.5px;line-height:22.5px;transform:scaleX(0.9350);color:#2f251c;letter-spacing:-0.405px;-webkit-text-stroke-width:0.225px;">San Francisco</span>
<span class="t" style="left:406.91px;top:615.81px;font-size:23.0px;line-height:23.0px;transform:scaleX(0.9650);color:#2f251c;letter-spacing:0.367px;-webkit-text-stroke-width:0.230px;">0.28</span>
<svg class="a" style="left:457.30px;top:618.45px" width="16.40" height="15.80"><path d="M2.6,2.6 L13.599999999999977,12.999999999999954 M6.756000000000004,12.999999999999954 H13.599999999999977 V6.155999999999981" fill="none" stroke="#2f251c" stroke-width="1.5" stroke-linecap="butt" stroke-linejoin="miter"/></svg>
</div>
<div class="row">
<svg class="a" style="left:115.85px;top:649.27px" width="35.2" height="19.2" viewBox="0 0 35.2 19.2"><rect width="35.2" height="19.2" fill="#fff"/><rect y="0.000" width="35.2" height="1.477" fill="#d23a3e"/><rect y="2.954" width="35.2" height="1.477" fill="#d23a3e"/><rect y="5.908" width="35.2" height="1.477" fill="#d23a3e"/><rect y="8.862" width="35.2" height="1.477" fill="#d23a3e"/><rect y="11.815" width="35.2" height="1.477" fill="#d23a3e"/><rect y="14.769" width="35.2" height="1.477" fill="#d23a3e"/><rect y="17.723" width="35.2" height="1.477" fill="#d23a3e"/><rect width="15.8" height="10.338" fill="#31497f"/><circle cx="1.40" cy="1.10" r="0.6" fill="#fff" fill-opacity=".85"/><circle cx="4.00" cy="1.10" r="0.6" fill="#fff" fill-opacity=".85"/><circle cx="6.60" cy="1.10" r="0.6" fill="#fff" fill-opacity=".85"/><circle cx="9.20" cy="1.10" r="0.6" fill="#fff" fill-opacity=".85"/><circle cx="11.80" cy="1.10" r="0.6" fill="#fff" fill-opacity=".85"/><circle cx="14.40" cy="1.10" r="0.6" fill="#fff" fill-opacity=".85"/><circle cx="1.40" cy="3.10" r="0.6" fill="#fff" fill-opacity=".85"/><circle cx="4.00" cy="3.10" r="0.6" fill="#fff" fill-opacity=".85"/><circle cx="6.60" cy="3.10" r="0.6" fill="#fff" fill-opacity=".85"/><circle cx="9.20" cy="3.10" r="0.6" fill="#fff" fill-opacity=".85"/><circle cx="11.80" cy="3.10" r="0.6" fill="#fff" fill-opacity=".85"/><circle cx="14.40" cy="3.10" r="0.6" fill="#fff" fill-opacity=".85"/><circle cx="1.40" cy="5.10" r="0.6" fill="#fff" fill-opacity=".85"/><circle cx="4.00" cy="5.10" r="0.6" fill="#fff" fill-opacity=".85"/><circle cx="6.60" cy="5.10" r="0.6" fill="#fff" fill-opacity=".85"/><circle cx="9.20" cy="5.10" r="0.6" fill="#fff" fill-opacity=".85"/><circle cx="11.80" cy="5.10" r="0.6" fill="#fff" fill-opacity=".85"/><circle cx="14.40" cy="5.10" r="0.6" fill="#fff" fill-opacity=".85"/><circle cx="1.40" cy="7.10" r="0.6" fill="#fff" fill-opacity=".85"/><circle cx="4.00" cy="7.10" r="0.6" fill="#fff" fill-opacity=".85"/><circle cx="6.60" cy="7.10" r="0.6" fill="#fff" fill-opacity=".85"/><circle cx="9.20" cy="7.10" r="0.6" fill="#fff" fill-opacity=".85"/><circle cx="11.80" cy="7.10" r="0.6" fill="#fff" fill-opacity=".85"/><circle cx="14.40" cy="7.10" r="0.6" fill="#fff" fill-opacity=".85"/><circle cx="1.40" cy="9.10" r="0.6" fill="#fff" fill-opacity=".85"/><circle cx="4.00" cy="9.10" r="0.6" fill="#fff" fill-opacity=".85"/><circle cx="6.60" cy="9.10" r="0.6" fill="#fff" fill-opacity=".85"/><circle cx="9.20" cy="9.10" r="0.6" fill="#fff" fill-opacity=".85"/><circle cx="11.80" cy="9.10" r="0.6" fill="#fff" fill-opacity=".85"/><circle cx="14.40" cy="9.10" r="0.6" fill="#fff" fill-opacity=".85"/></svg>
<span class="t" style="left:161.91px;top:647.67px;font-size:22.5px;line-height:22.5px;transform:scaleX(0.9650);color:#2f251c;letter-spacing:0.260px;-webkit-text-stroke-width:0.225px;">New York</span>
<span class="t" style="left:403.01px;top:647.77px;font-size:23.0px;line-height:23.0px;transform:scaleX(0.9650);color:#2f251c;letter-spacing:0.367px;-webkit-text-stroke-width:0.230px;">0.26</span>
<svg class="a" style="left:453.40px;top:650.45px" width="16.40" height="15.80"><path d="M2.6,2.6 L13.599999999999977,12.999999999999954 M6.756000000000004,12.999999999999954 H13.599999999999977 V6.155999999999981" fill="none" stroke="#2f251c" stroke-width="1.5" stroke-linecap="butt" stroke-linejoin="miter"/></svg>
</div>
<div class="row">
<svg class="a" style="left:115.85px;top:681.73px" width="35.2" height="18.3" viewBox="0 0 35.2 18.3"><rect width="35.2" height="18.3" fill="#f2f2f3"/><rect width="11.1" height="18.3" fill="#3a5db2"/><rect x="23.70" width="11.5" height="18.3" fill="#e63a4b"/></svg>
<span class="t" style="left:161.96px;top:679.66px;font-size:22.5px;line-height:22.5px;transform:scaleX(0.9350);color:#2f251c;letter-spacing:-0.786px;-webkit-text-stroke-width:0.225px;">Paris</span>
<span class="t" style="left:400.61px;top:679.72px;font-size:23.0px;line-height:23.0px;transform:scaleX(0.9650);color:#2f251c;letter-spacing:0.279px;-webkit-text-stroke-width:0.230px;">0.25</span>
<svg class="a" style="left:450.80px;top:682.45px" width="16.40" height="15.80"><path d="M2.6,2.6 L13.599999999999977,12.999999999999954 M6.756000000000004,12.999999999999954 H13.599999999999977 V6.155999999999981" fill="none" stroke="#2f251c" stroke-width="1.5" stroke-linecap="butt" stroke-linejoin="miter"/></svg>
</div>
<div class="row">
<svg class="a" style="left:115.85px;top:713.74px" width="35.2" height="18.3" viewBox="0 0 35.2 18.3"><rect width="35.2" height="18.3" fill="#f2f2f3"/><rect width="11.1" height="18.3" fill="#1c9a59"/><rect x="23.70" width="11.5" height="18.3" fill="#e63a4b"/></svg>
<span class="t" style="left:161.91px;top:711.66px;font-size:22.5px;line-height:22.5px;transform:scaleX(0.9650);color:#2f251c;letter-spacing:0.857px;-webkit-text-stroke-width:0.225px;">Milan</span>
<span class="t" style="left:373.32px;top:711.68px;font-size:23.0px;line-height:23.0px;transform:scaleX(0.9550);color:#2f251c;-webkit-text-stroke-width:0.230px;">0.01</span>
<svg class="a" style="left:423.50px;top:714.45px" width="16.40" height="15.80"><path d="M2.6,2.6 L13.599999999999977,12.999999999999954 M6.756000000000004,12.999999999999954 H13.599999999999977 V6.155999999999981" fill="none" stroke="#2f251c" stroke-width="1.5" stroke-linecap="butt" stroke-linejoin="miter"/></svg>
</div>
<div class="row">
<svg class="a" style="left:115.85px;top:745.00px" width="35.2" height="19.8" viewBox="0 0 35.2 19.8"><rect width="35.2" height="19.8" fill="#2e9444"/><polygon points="5.400000000000002,9.9 17.6,2.2 29.8,9.9 17.6,17.6" fill="#f0c81e"/><circle cx="17.6" cy="9.8" r="5.4" fill="#221e72"/><path d="M12.700000000000001,8.3 Q17.6,6.9 22.6,11.1" stroke="#dfe0f0" stroke-width="1.1" fill="none"/><circle cx="16.1" cy="11.700000000000001" r=".5" fill="#cfd0ea"/><circle cx="18.8" cy="12.8" r=".5" fill="#cfd0ea"/><circle cx="20.200000000000003" cy="11.1" r=".4" fill="#cfd0ea"/></svg>
<span class="t" style="left:162.75px;top:743.65px;font-size:22.5px;line-height:22.5px;transform:scaleX(0.9350);color:#2f251c;letter-spacing:-0.287px;-webkit-text-stroke-width:0.225px;">São Paulo</span>
<span class="t" style="left:361.70px;top:743.63px;font-size:23.0px;line-height:23.0px;transform:scaleX(0.9542);color:#2f251c;-webkit-text-stroke-width:0.230px;">–0.10</span>
<svg class="a" style="left:422.40px;top:746.45px" width="16.40" height="15.80"><path d="M2.6,2.6 L13.599999999999977,12.999999999999954 M6.756000000000004,12.999999999999954 H13.599999999999977 V6.155999999999981" fill="none" stroke="#2f251c" stroke-width="1.5" stroke-linecap="butt" stroke-linejoin="miter"/></svg>
</div>
<svg class="a" style="left:0;top:0" width="1536" height="964"><rect x="357.40" y="104.90" width="270.00" height="20.20" fill="#a00000"/><rect x="357.40" y="136.85" width="247.40" height="20.20" fill="#a00000"/><rect x="357.40" y="168.81" width="242.20" height="20.20" fill="#a00000"/><rect x="357.40" y="200.77" width="173.50" height="20.20" fill="#ffc745"/><rect x="357.40" y="232.72" width="170.60" height="20.20" fill="#ffc745"/><rect x="357.40" y="264.67" width="166.20" height="20.20" fill="#ffc745"/><rect x="357.40" y="296.63" width="163.80" height="20.20" fill="#ffc745"/><rect x="357.40" y="328.58" width="125.80" height="20.20" fill="#bab3a3"/><rect x="357.40" y="360.54" width="125.80" height="20.20" fill="#bab3a3"/><rect x="357.40" y="392.49" width="119.80" height="20.20" fill="#bab3a3"/><rect x="357.40" y="424.45" width="118.80" height="20.20" fill="#bab3a3"/><rect x="357.40" y="456.40" width="118.80" height="20.20" fill="#bab3a3"/><rect x="357.40" y="488.36" width="100.60" height="20.20" fill="#bab3a3"/><rect x="357.40" y="520.31" width="85.20" height="20.20" fill="#bab3a3"/><rect x="357.40" y="552.27" width="68.30" height="20.20" fill="#a9bddb"/><rect x="357.40" y="584.23" width="53.20" height="20.20" fill="#a9bddb"/><rect x="357.40" y="616.18" width="44.10" height="20.20" fill="#a9bddb"/><rect x="357.40" y="648.13" width="40.50" height="20.20" fill="#a9bddb"/><rect x="357.40" y="680.09" width="38.10" height="20.20" fill="#a9bddb"/><rect x="357.40" y="712.04" width="3.50" height="20.20" fill="#a9bddb"/><rect x="341.40" y="744.00" width="16.00" height="20.20" fill="#a9bddb"/><rect x="432.50" y="104.90" width="1.60" height="20.20" fill="rgba(255,255,255,.85)"/><rect x="512.70" y="104.90" width="1.60" height="20.20" fill="rgba(255,255,255,.85)"/><rect x="592.95" y="104.90" width="1.60" height="20.20" fill="rgba(255,255,255,.85)"/><rect x="432.50" y="136.85" width="1.60" height="20.20" fill="rgba(255,255,255,.85)"/><rect x="512.70" y="136.85" width="1.60" height="20.20" fill="rgba(255,255,255,.85)"/><rect x="592.95" y="136.85" width="1.60" height="20.20" fill="rgba(255,255,255,.85)"/><rect x="432.50" y="168.81" width="1.60" height="20.20" fill="rgba(255,255,255,.85)"/><rect x="512.70" y="168.81" width="1.60" height="20.20" fill="rgba(255,255,255,.85)"/><rect x="592.95" y="168.81" width="1.60" height="20.20" fill="rgba(255,255,255,.85)"/><rect x="432.50" y="200.77" width="1.60" height="20.20" fill="rgba(255,255,255,.85)"/><rect x="512.70" y="200.77" width="1.60" height="20.20" fill="rgba(255,255,255,.85)"/><rect x="432.50" y="232.72" width="1.60" height="20.20" fill="rgba(255,255,255,.85)"/><rect x="512.70" y="232.72" width="1.60" height="20.20" fill="rgba(255,255,255,.85)"/><rect x="432.50" y="264.67" width="1.60" height="20.20" fill="rgba(255,255,255,.85)"/><rect x="512.70" y="264.67" width="1.60" height="20.20" fill="rgba(255,255,255,.85)"/><rect x="432.50" y="296.63" width="1.60" height="20.20" fill="rgba(255,255,255,.85)"/><rect x="512.70" y="296.63" width="1.60" height="20.20" fill="rgba(255,255,255,.85)"/><rect x="432.50" y="328.58" width="1.60" height="20.20" fill="rgba(255,255,255,.85)"/><rect x="432.50" y="360.54" width="1.60" height="20.20" fill="rgba(255,255,255,.85)"/><rect x="432.50" y="392.49" width="1.60" height="20.20" fill="rgba(255,255,255,.85)"/><rect x="432.50" y="424.45" width="1.60" height="20.20" fill="rgba(255,255,255,.85)"/><rect x="432.50" y="456.40" width="1.60" height="20.20" fill="rgba(255,255,255,.85)"/><rect x="432.50" y="488.36" width="1.60" height="20.20" fill="rgba(255,255,255,.85)"/><rect x="432.50" y="520.31" width="1.60" height="20.20" fill="rgba(255,255,255,.85)"/><rect x="356.50" y="98.90" width="1.70" height="672.10" fill="#000"/></svg>
</div>
<div class="legend" id="legend1">
<span class="t" style="left:112.65px;top:829.81px;font-size:17.0px;line-height:17.0px;transform:scaleX(0.9650);color:#2f251c;letter-spacing:0.887px;-webkit-text-stroke-width:0.170px;">High</span>
<span class="t" style="left:112.97px;top:848.61px;font-size:17.0px;line-height:17.0px;transform:scaleX(0.9650);color:#2f251c;letter-spacing:0.457px;-webkit-text-stroke-width:0.170px;">(&gt; 1.5)</span>
<span class="t" style="left:226.15px;top:829.81px;font-size:17.0px;line-height:17.0px;transform:scaleX(0.9650);color:#2f251c;letter-spacing:0.083px;-webkit-text-stroke-width:0.170px;">Elevated</span>
<span class="t" style="left:226.47px;top:848.61px;font-size:17.0px;line-height:17.0px;transform:scaleX(0.9650);color:#2f251c;letter-spacing:0.583px;-webkit-text-stroke-width:0.170px;">(1.0 to 1.5)</span>
<span class="t" style="left:347.65px;top:829.81px;font-size:17.0px;line-height:17.0px;transform:scaleX(0.9650);color:#2f251c;letter-spacing:0.745px;-webkit-text-stroke-width:0.170px;">Moderate</span>
<span class="t" style="left:347.97px;top:848.61px;font-size:17.0px;line-height:17.0px;transform:scaleX(0.9650);color:#2f251c;letter-spacing:0.564px;-webkit-text-stroke-width:0.170px;">(0.5 to 1.0)</span>
<span class="t" style="left:474.05px;top:829.81px;font-size:17.0px;line-height:17.0px;transform:scaleX(0.9650);color:#2f251c;letter-spacing:0.730px;-webkit-text-stroke-width:0.170px;">Low</span>
<span class="t" style="left:474.37px;top:848.61px;font-size:17.0px;line-height:17.0px;transform:scaleX(0.9650);color:#2f251c;letter-spacing:0.544px;-webkit-text-stroke-width:0.170px;">(&lt; 0.5)</span>
<svg class="a" style="left:570.90px;top:803.40px" width="16.10" height="15.60"><path d="M2.6,2.6 L13.300000000000022,12.800000000000022 M6.572000000000009,12.800000000000022 H13.300000000000022 V6.072000000000009" fill="none" stroke="#2f251c" stroke-width="1.5" stroke-linecap="butt" stroke-linejoin="miter"/></svg>
<svg class="a" style="left:593.20px;top:803.40px" width="16.50" height="15.60"><path d="M2.6,13.000000000000023 L13.7,2.8 M6.971999999999986,2.8 H13.7 V9.528000000000013" fill="none" stroke="#2f251c" stroke-width="1.5" stroke-linecap="butt" stroke-linejoin="miter"/></svg>
<svg class="a" style="left:615.30px;top:803.60px" width="20.00" height="15.40"><path d="M2.2,7.699999999999989 H17.2 M13.5,3.9999999999999885 L17.2,7.699999999999989 L13.5,11.399999999999988" fill="none" stroke="#2f251c" stroke-width="1.5" stroke-linecap="butt" stroke-linejoin="miter"/></svg>
<span class="t" style="left:569.90px;top:829.81px;font-size:17.0px;line-height:17.0px;transform:scaleX(0.9650);color:#2f251c;letter-spacing:0.053px;-webkit-text-stroke-width:0.170px;">Bubble risk score</span>
<span class="t" style="left:570.55px;top:848.61px;font-size:17.0px;line-height:17.0px;transform:scaleX(0.9650);color:#2f251c;letter-spacing:0.243px;-webkit-text-stroke-width:0.170px;">change vs. 2024</span>
<span class="t" style="left:113.28px;top:889.81px;font-size:17.0px;line-height:17.0px;transform:scaleX(0.9350);color:#2f251c;letter-spacing:-0.090px;-webkit-text-stroke-width:0.170px;">Source: UBS</span>
<svg class="a" style="left:0;top:0" width="1536" height="964"><rect x="114.00" y="801.60" width="17.20" height="17.10" fill="#a00000"/><rect x="227.50" y="801.60" width="17.20" height="17.10" fill="#ffc745"/><rect x="349.00" y="801.60" width="17.20" height="17.10" fill="#bab3a3"/><rect x="475.40" y="801.60" width="17.20" height="17.10" fill="#a9bddb"/></svg>
</div>
<div class="chart" id="chart2">
<span class="t" style="left:916.94px;top:82.66px;font-size:18.6px;line-height:18.6px;transform:scaleX(0.9650);color:#4f453c;letter-spacing:0.550px;-webkit-text-stroke-width:0.186px;">–10</span>
<span class="t" style="left:1013.80px;top:82.66px;font-size:18.6px;line-height:18.6px;transform:scaleX(0.9650);color:#4f453c;letter-spacing:0.722px;-webkit-text-stroke-width:0.186px;">–5</span>
<span class="t" style="left:1110.52px;top:82.66px;font-size:18.6px;line-height:18.6px;transform:scaleX(1.0000);color:#4f453c;-webkit-text-stroke-width:0.186px;">0</span>
<span class="t" style="left:1198.09px;top:82.66px;font-size:18.6px;line-height:18.6px;transform:scaleX(1.0000);color:#4f453c;-webkit-text-stroke-width:0.186px;">5</span>
<span class="t" style="left:1283.23px;top:82.66px;font-size:18.6px;line-height:18.6px;transform:scaleX(0.9650);color:#4f453c;letter-spacing:0.673px;-webkit-text-stroke-width:0.186px;">10</span>
<span class="t" style="left:1370.70px;top:82.66px;font-size:18.6px;line-height:18.6px;transform:scaleX(0.9650);color:#4f453c;letter-spacing:0.671px;-webkit-text-stroke-width:0.186px;">15</span>
<div class="row">
<span class="t" style="left:768.35px;top:112.46px;font-size:23.2px;line-height:23.2px;transform:scaleX(0.9650);color:#2f251c;letter-spacing:0.964px;-webkit-text-stroke-width:0.232px;">Madrid</span>
</div>
<div class="row">
<span class="t" style="left:768.35px;top:149.00px;font-size:23.2px;line-height:23.2px;transform:scaleX(0.9650);color:#2f251c;letter-spacing:0.407px;-webkit-text-stroke-width:0.232px;">Dubai</span>
</div>
<div class="row">
<span class="t" style="left:768.90px;top:185.54px;font-size:23.2px;line-height:23.2px;transform:scaleX(0.9517);color:#2f251c;-webkit-text-stroke-width:0.232px;">Tokyo</span>
</div>
<div class="row">
<span class="t" style="left:769.09px;top:222.08px;font-size:23.2px;line-height:23.2px;transform:scaleX(0.9480);color:#2f251c;-webkit-text-stroke-width:0.232px;">Zurich</span>
</div>
<div class="row">
<span class="t" style="left:769.12px;top:258.62px;font-size:23.2px;line-height:23.2px;transform:scaleX(0.9350);color:#2f251c;letter-spacing:-0.256px;-webkit-text-stroke-width:0.232px;">Geneva</span>
</div>
<div class="row">
<span class="t" style="left:769.21px;top:295.16px;font-size:23.2px;line-height:23.2px;transform:scaleX(0.9460);color:#2f251c;-webkit-text-stroke-width:0.232px;">Singapore</span>
</div>
<div class="row">
<span class="t" style="left:768.35px;top:331.70px;font-size:23.2px;line-height:23.2px;transform:scaleX(0.9650);color:#2f251c;letter-spacing:1.176px;-webkit-text-stroke-width:0.232px;">Miami</span>
</div>
<div class="row">
<span class="t" style="left:768.35px;top:368.24px;font-size:23.2px;line-height:23.2px;transform:scaleX(0.9650);color:#2f251c;letter-spacing:0.933px;-webkit-text-stroke-width:0.232px;">Munich</span>
</div>
<div class="row">
<span class="t" style="left:770.14px;top:404.78px;font-size:23.2px;line-height:23.2px;transform:scaleX(0.9650);color:#2f251c;letter-spacing:0.020px;-webkit-text-stroke-width:0.232px;">Amsterdam</span>
</div>
<div class="row">
<span class="t" style="left:768.38px;top:441.32px;font-size:23.2px;line-height:23.2px;transform:scaleX(0.9498);color:#2f251c;-webkit-text-stroke-width:0.232px;">Los Angeles</span>
</div>
<div class="row">
<span class="t" style="left:768.41px;top:477.86px;font-size:23.2px;line-height:23.2px;transform:scaleX(0.9350);color:#2f251c;letter-spacing:-0.790px;-webkit-text-stroke-width:0.232px;">Paris</span>
</div>
<div class="row">
<span class="t" style="left:769.22px;top:514.40px;font-size:23.2px;line-height:23.2px;transform:scaleX(0.9350);color:#2f251c;letter-spacing:-0.255px;-webkit-text-stroke-width:0.232px;">São Paulo</span>
</div>
<div class="row">
<span class="t" style="left:769.22px;top:550.94px;font-size:23.2px;line-height:23.2px;transform:scaleX(0.9350);color:#2f251c;letter-spacing:-0.495px;-webkit-text-stroke-width:0.232px;">Sydney</span>
</div>
<div class="row">
<span class="t" style="left:768.35px;top:587.48px;font-size:23.2px;line-height:23.2px;transform:scaleX(0.9650);color:#2f251c;letter-spacing:0.267px;-webkit-text-stroke-width:0.232px;">Frankfurt</span>
</div>
<div class="row">
<span class="t" style="left:768.35px;top:624.02px;font-size:23.2px;line-height:23.2px;transform:scaleX(0.9650);color:#2f251c;letter-spacing:0.305px;-webkit-text-stroke-width:0.232px;">New York</span>
</div>
<div class="row">
<span class="t" style="left:768.35px;top:660.56px;font-size:23.2px;line-height:23.2px;transform:scaleX(0.9650);color:#2f251c;letter-spacing:0.411px;-webkit-text-stroke-width:0.232px;">London</span>
</div>
<div class="row">
<span class="t" style="left:769.22px;top:697.10px;font-size:23.2px;line-height:23.2px;transform:scaleX(0.9350);color:#2f251c;letter-spacing:-0.354px;-webkit-text-stroke-width:0.232px;">San Francisco</span>
</div>
<div class="row">
<span class="t" style="left:768.35px;top:733.64px;font-size:23.2px;line-height:23.2px;transform:scaleX(0.9650);color:#2f251c;letter-spacing:0.957px;-webkit-text-stroke-width:0.232px;">Milan</span>
</div>
<div class="row">
<span class="t" style="left:769.69px;top:770.18px;font-size:23.2px;line-height:23.2px;transform:scaleX(0.9458);color:#2f251c;-webkit-text-stroke-width:0.232px;">Vancouver</span>
</div>
<div class="row">
<span class="t" style="left:768.90px;top:806.72px;font-size:23.2px;line-height:23.2px;transform:scaleX(0.9650);color:#2f251c;letter-spacing:0.231px;-webkit-text-stroke-width:0.232px;">Toronto</span>
</div>
<div class="row">
<span class="t" style="left:768.35px;top:843.26px;font-size:23.2px;line-height:23.2px;transform:scaleX(0.9650);color:#2f251c;letter-spacing:0.564px;-webkit-text-stroke-width:0.232px;">Hong Kong</span>
</div>
<svg class="a" style="left:0;top:0" width="1536" height="964"><rect x="1118.30" y="115.00" width="239.60" height="26.20" fill="#b9b2a2"/><rect x="1176.00" y="115.00" width="9.20" height="26.20" fill="#8f2f30"/><rect x="1118.30" y="151.36" width="194.40" height="26.20" fill="#b9b2a2"/><rect x="1276.25" y="151.36" width="9.35" height="26.20" fill="#8f2f30"/><rect x="1118.30" y="187.71" width="99.00" height="26.20" fill="#b9b2a2"/><rect x="1228.30" y="187.71" width="9.00" height="26.20" fill="#8f2f30"/><rect x="1118.30" y="224.07" width="87.30" height="26.20" fill="#b9b2a2"/><rect x="1191.25" y="224.07" width="9.15" height="26.20" fill="#8f2f30"/><rect x="1118.30" y="260.43" width="71.40" height="26.20" fill="#b9b2a2"/><rect x="1153.10" y="260.43" width="9.20" height="26.20" fill="#8f2f30"/><rect x="1118.30" y="296.78" width="45.20" height="26.20" fill="#b9b2a2"/><rect x="1178.75" y="296.78" width="8.95" height="26.20" fill="#8f2f30"/><rect x="1118.30" y="333.14" width="32.30" height="26.20" fill="#b9b2a2"/><rect x="1265.20" y="333.14" width="9.00" height="26.20" fill="#8f2f30"/><rect x="1118.30" y="369.50" width="22.70" height="26.20" fill="#b9b2a2"/><rect x="1064.00" y="369.50" width="8.90" height="26.20" fill="#8f2f30"/><rect x="1118.30" y="405.86" width="19.70" height="26.20" fill="#b9b2a2"/><rect x="1137.50" y="405.86" width="9.20" height="26.20" fill="#8f2f30"/><rect x="1118.30" y="442.21" width="15.20" height="26.20" fill="#b9b2a2"/><rect x="1173.10" y="442.21" width="9.00" height="26.20" fill="#8f2f30"/><rect x="1022.90" y="478.57" width="9.00" height="26.20" fill="#8f2f30"/><rect x="1085.40" y="514.93" width="9.00" height="26.20" fill="#8f2f30"/><rect x="1102.90" y="551.28" width="13.60" height="26.20" fill="#b9b2a2"/><rect x="1145.40" y="551.28" width="9.00" height="26.20" fill="#8f2f30"/><rect x="1095.40" y="587.64" width="21.10" height="26.20" fill="#b9b2a2"/><rect x="1068.50" y="587.64" width="9.00" height="26.20" fill="#8f2f30"/><rect x="1089.40" y="624.00" width="27.10" height="26.20" fill="#b9b2a2"/><rect x="1095.50" y="624.00" width="9.00" height="26.20" fill="#8f2f30"/><rect x="1080.00" y="660.36" width="36.50" height="26.20" fill="#b9b2a2"/><rect x="1066.00" y="660.36" width="9.00" height="26.20" fill="#8f2f30"/><rect x="1070.20" y="696.71" width="46.30" height="26.20" fill="#b9b2a2"/><rect x="1089.20" y="696.71" width="8.90" height="26.20" fill="#8f2f30"/><rect x="1069.60" y="733.07" width="46.90" height="26.20" fill="#b9b2a2"/><rect x="1094.60" y="733.07" width="8.90" height="26.20" fill="#8f2f30"/><rect x="1012.90" y="769.43" width="103.60" height="26.20" fill="#b9b2a2"/><rect x="1133.75" y="769.43" width="8.95" height="26.20" fill="#8f2f30"/><rect x="983.50" y="805.78" width="133.00" height="26.20" fill="#b9b2a2"/><rect x="1120.00" y="805.78" width="8.60" height="26.20" fill="#8f2f30"/><rect x="977.70" y="842.14" width="138.80" height="26.20" fill="#b9b2a2"/><rect x="1006.90" y="842.14" width="8.90" height="26.20" fill="#8f2f30"/><rect x="936.00" y="107.00" width="1.00" height="768.40" fill="#a8a8a8"/><rect x="1027.00" y="107.00" width="2.00" height="768.40" fill="#b0b0b0"/><rect x="1204.00" y="107.00" width="1.00" height="768.40" fill="#707070"/><rect x="1293.00" y="107.00" width="2.00" height="768.40" fill="#bdbdbd"/><rect x="1381.00" y="107.00" width="1.00" height="768.40" fill="rgba(160,160,160,.2)"/><rect x="1382.00" y="107.00" width="1.00" height="768.40" fill="#a0a0a0"/><rect x="1116.55" y="107.00" width="1.70" height="768.40" fill="#000"/></svg>
</div>
<div class="legend" id="legend2">
<span class="t" style="left:793.04px;top:906.77px;font-size:21.3px;line-height:21.3px;transform:scaleX(0.9438);color:#2f251c;-webkit-text-stroke-width:0.213px;">Last four quarters</span>
<span class="t" style="left:987.26px;top:906.77px;font-size:21.3px;line-height:21.3px;transform:scaleX(0.9350);color:#2f251c;letter-spacing:-0.356px;-webkit-text-stroke-width:0.213px;">Last five years</span>
<svg class="a" style="left:0;top:0" width="1536" height="964"><rect x="770.20" y="908.60" width="15.60" height="15.40" fill="#c6c5b8"/><rect x="972.50" y="906.70" width="6.25" height="21.00" fill="#8f2f30"/></svg>
</div>
</body></html>
